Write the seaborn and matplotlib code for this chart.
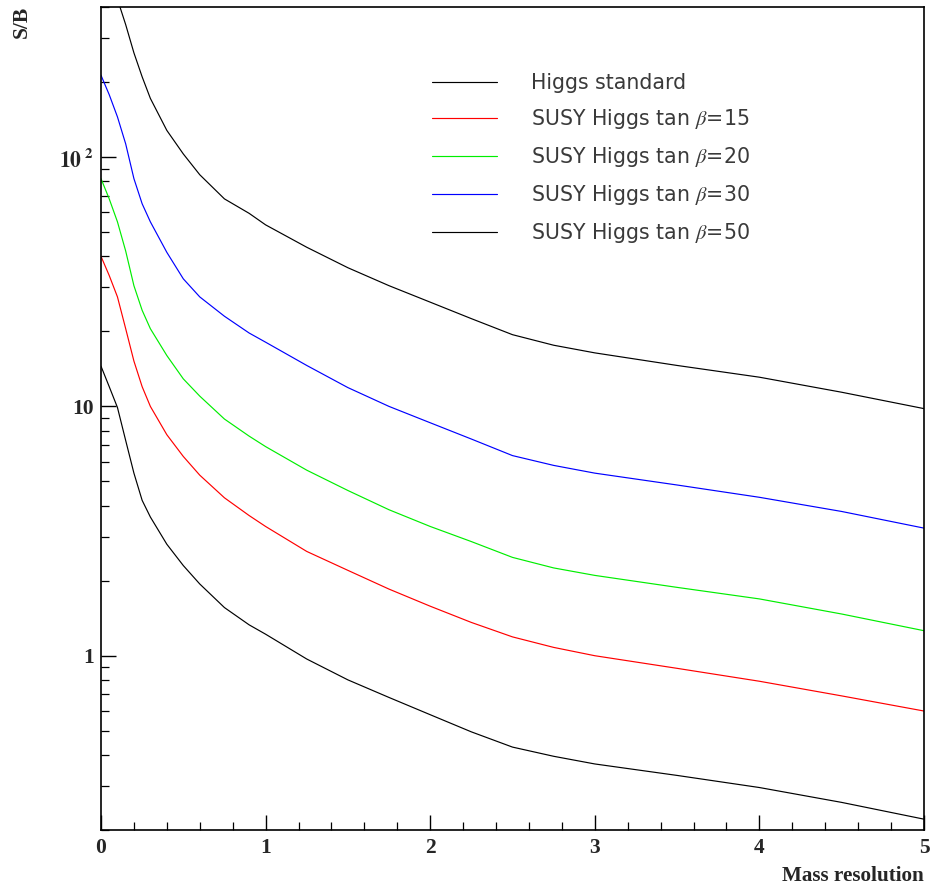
import matplotlib
matplotlib.use("Agg")
import matplotlib.pyplot as plt
from matplotlib.ticker import FixedLocator, FixedFormatter, LogLocator, NullFormatter, MultipleLocator
import pandas as pd
import seaborn as sns

# Values
mass_res = [0, 0.05, 0.1, 0.15, 0.2, 0.25, 0.3, 0.4, 0.5, 0.6, 0.75, 0.9, 1.0,
            1.25, 1.5, 1.75, 2.0, 2.25, 2.5, 2.75, 3.0, 3.5, 4.0, 4.5, 5.0]

higgs_sm = [14.5, 12.0, 9.9, 7.3, 5.4, 4.2, 3.6, 2.8, 2.3, 1.94, 1.56, 1.33, 1.22,
            0.97, 0.80, 0.68, 0.58, 0.495, 0.43, 0.395, 0.368, 0.331, 0.296, 0.258, 0.221]
susy_tb15 = [40, 33.5, 27.5, 20.5, 15.2, 12.0, 10.0, 7.7, 6.3, 5.3, 4.3, 3.65, 3.3,
             2.62, 2.2, 1.85, 1.58, 1.36, 1.19, 1.08, 1.0, 0.89, 0.79, 0.69, 0.60]
susy_tb20 = [82, 68, 55, 42, 30.5, 24.3, 20.5, 16.0, 12.9, 11.0, 8.9, 7.6, 6.9,
             5.55, 4.6, 3.85, 3.3, 2.87, 2.48, 2.25, 2.1, 1.88, 1.69, 1.47, 1.26]
susy_tb30 = [213, 178, 145, 113, 82, 65, 55, 41.5, 32.5, 27.5, 23.0, 19.7, 18.1,
             14.6, 11.9, 10.0, 8.6, 7.4, 6.35, 5.8, 5.4, 4.84, 4.32, 3.79, 3.25]
susy_tb50 = [640, 530, 430, 340, 262, 210, 172, 128, 103, 85, 68, 59.5, 53.5,
             43.5, 36, 30.5, 26.2, 22.5, 19.4, 17.6, 16.4, 14.6, 13.1, 11.4, 9.8]

labels = ["Higgs standard",
          r"SUSY Higgs tan $\beta$=15",
          r"SUSY Higgs tan $\beta$=20",
          r"SUSY Higgs tan $\beta$=30",
          r"SUSY Higgs tan $\beta$=50"]
colors = ["black", "#ff0000", "#00ee00", "#0000ff", "black"]

xticks = [0, 1, 2, 3, 4, 5]
xtick_labels = ["0", "1", "2", "3", "4", "5"]
yticks = [1, 10, 100]
ytick_labels = ["1", "10", r"$\mathbf{10^{\ 2}}$"]

series = [higgs_sm, susy_tb15, susy_tb20, susy_tb30, susy_tb50]
df = pd.concat([pd.DataFrame({"mass": mass_res, "sb": s, "curve": lab})
                for s, lab in zip(series, labels)], ignore_index=True)

sns.set_style("white")
plt.rcParams["font.family"] = ["DejaVu Sans"]
plt.rcParams["mathtext.fontset"] = "stix"

fig, ax = plt.subplots(figsize=(9.3, 8.91), dpi=100)
fig.subplots_adjust(left=0.1086, right=0.9935, top=0.9921, bottom=0.0685)

sns.lineplot(data=df, x="mass", y="sb", hue="curve", hue_order=labels,
             palette=dict(zip(labels, colors)), linewidth=0.85, ax=ax)

ax.set_yscale("log")
ax.set_xlim(0, 5)
ax.set_ylim(0.2, 400)

# ticks
ax.xaxis.set_major_locator(FixedLocator(xticks))
ax.xaxis.set_major_formatter(FixedFormatter(xtick_labels))
ax.xaxis.set_minor_locator(MultipleLocator(0.2))
ax.yaxis.set_major_locator(FixedLocator(yticks))
ax.yaxis.set_major_formatter(FixedFormatter(ytick_labels))
ax.yaxis.set_minor_locator(LogLocator(base=10, subs=range(2, 10)))
ax.yaxis.set_minor_formatter(NullFormatter())
ax.tick_params(which="both", direction="in", left=True, bottom=True,
               top=False, right=False, color="black")
ax.tick_params(which="major", length=11, width=1.0)
ax.tick_params(which="minor", length=5.5, width=0.9)
ax.tick_params(axis="x", which="major", pad=6)
ax.tick_params(axis="y", which="major", pad=5)
for lab in ax.get_xticklabels() + ax.get_yticklabels():
    lab.set_family("Liberation Serif")
    lab.set_weight("bold")
    lab.set_size(15.5)

for sp in ax.spines.values():
    sp.set_color("black")
    sp.set_linewidth(1.2)

ax.set_xlabel("Mass resolution", family="Liberation Serif", weight="bold",
              size=15.2, ha="right")
ax.xaxis.set_label_coords(1.0, -0.044)
ax.set_ylabel("S/B", family="Liberation Serif", weight="bold", size=15.5)
ax.yaxis.set_label_coords(-0.084, 0.982)

sns.move_legend(ax, "upper left", bbox_to_anchor=(0.402, 0.92), frameon=False,
                title=None, fontsize=14.8, handlelength=3.16, handletextpad=1.65,
                labelspacing=0.68, borderpad=0, borderaxespad=0)
for t in ax.get_legend().get_texts():
    t.set_color("#3a3a3a")
for h in ax.get_legend().get_lines():
    h.set_linewidth(0.85)

plt.savefig("out.png", dpi=100)
